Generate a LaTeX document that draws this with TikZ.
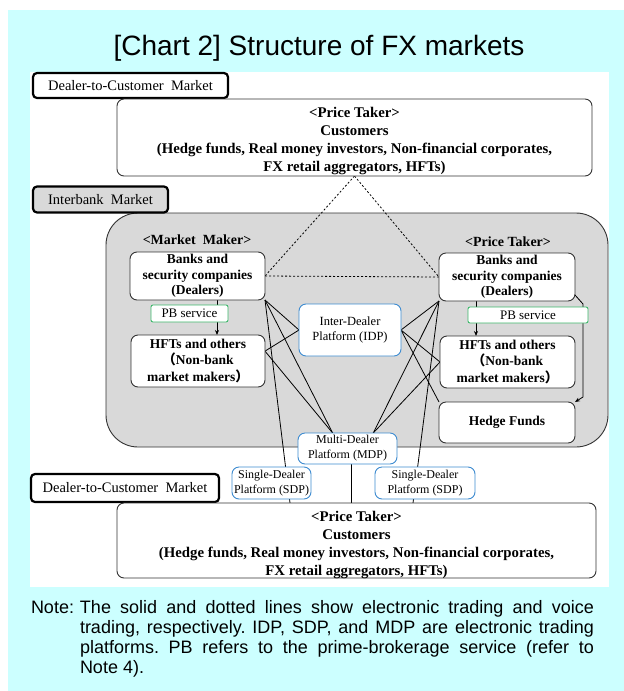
\documentclass[tikz,border=0pt]{standalone}
\usepackage{fontspec}
\setmainfont{Liberation Serif}
\newfontfamily\arial{Liberation Sans}
\newfontfamily\cjk{Noto Sans CJK JP}
\usetikzlibrary{arrows.meta,calc}
\definecolor{bgcyan}{HTML}{CCFFFF}
\definecolor{ibgray}{HTML}{D9D9D9}
\definecolor{pblue}{HTML}{3D8BD0}
\definecolor{pbgreen}{HTML}{3DB86B}
\pgfdeclarelayer{bg}
\pgfdeclarelayer{lines}
\pgfsetlayers{bg,lines,main}
\frenchspacing
\begin{document}
\begin{tikzpicture}[x=1pt,y=-1pt,
  every node/.style={inner sep=0pt, outer sep=0pt},
  box/.style={draw=black!80, fill=white, line width=0.9pt, rounded corners=7pt, align=center,
    font=\bfseries\fontsize{13.5}{15.5}\selectfont},
  custtext/.style={align=center, font=\bfseries\fontsize{14.8}{18}\selectfont},
  lbl/.style={draw=black, line width=2.2pt, rounded corners=4pt, align=center,
    font=\fontsize{14.5}{16}\selectfont},
  plat/.style={draw=pblue, fill=white, line width=0.9pt, rounded corners=7pt, align=center,
    font=\fontsize{12}{15}\selectfont},
  pbbox/.style={draw=pbgreen, fill=white, line width=0.9pt, rounded corners=2pt,
    font=\fontsize{13}{15}\selectfont},
  role/.style={font=\bfseries\fontsize{14}{16}\selectfont},
  link/.style={line width=0.8pt},
  voice/.style={line width=0.8pt, dash pattern=on 2pt off 2pt},
  pbarrow/.style={line width=0.8pt, -{Stealth[length=5pt,width=4pt]}},
  notefont/.style={font=\arial\fontsize{18}{20.3}\selectfont},
]
\useasboundingbox (0,0) rectangle (624,691);

\begin{pgfonlayer}{bg}
  \fill[bgcyan] (8,10) rectangle (624,691);
  \fill[white] (30,72) rectangle (609,587);
  \node[draw=black!80, fill=ibgray, line width=0.9pt, rounded corners=32pt,
        minimum width=502pt, minimum height=234pt] (ibreg) at (357,330) {};
\end{pgfonlayer}

% title
\node[font=\arial\fontsize{28}{30}\selectfont] (title) at (319,48) {[Chart 2] Structure of FX markets};

% labels
\node[lbl, fill=white, minimum width=195pt, minimum height=25pt] (d2ctop) at (130.5,85.5) {Dealer-to-Customer\ \ Market};
\node[lbl, fill=ibgray, minimum width=135pt, minimum height=26pt] (interbank) at (100.5,199.5) {Interbank\ \ Market};
\node[lbl, fill=white, minimum width=188pt, minimum height=28pt] (d2cbot) at (125,488) {Dealer-to-Customer\ \ Market};

% customers
\node[box, minimum width=475pt, minimum height=77pt] (custtop) at (354.5,137.5) {};
\node[custtext] (custtoptext) at (354.5,140.5)
  {<Price Taker>\\Customers\\(Hedge funds, Real money investors, Non-financial corporates,\\FX retail aggregators, HFTs)};
\node[box, minimum width=479pt, minimum height=75pt] (custbot) at (356.5,540.5) {};
\node[custtext] (custbottext) at (356.5,545)
  {<Price Taker>\\Customers\\(Hedge funds, Real money investors, Non-financial corporates,\\FX retail aggregators, HFTs)};

% roles
\node[role] (mm) at (197,240) {<Market\ \ Maker>};
\node[role] (pt) at (508,242) {<Price Taker>};

% interbank boxes
\node[box, minimum width=135pt, minimum height=48pt] (ldeal) at (197.5,276) {Banks and\\security companies\\(Dealers)};
\node[box, minimum width=136pt, minimum height=48pt] (rdeal) at (507,277) {Banks and\\security companies\\(Dealers)};
\node[box, font=\bfseries\fontsize{13.5}{16.5}\selectfont, minimum width=134pt, minimum height=52pt] (lhft) at (198,361)
  {HFTs and others\\{\cjk （}Non-bank\\market makers{\cjk ）}};
\node[box, font=\bfseries\fontsize{13.5}{16.5}\selectfont, minimum width=135pt, minimum height=52pt] (rhft) at (507.5,362)
  {HFTs and others\\{\cjk （}Non-bank\\market makers{\cjk ）}};
\node[box, font=\bfseries\fontsize{13.5}{16}\selectfont, minimum width=136pt, minimum height=41pt] (hf) at (507,422.5) {Hedge Funds};

\node[pbbox, minimum width=77pt, minimum height=17pt] (lpb) at (189.5,313.5) {PB service};
\node[pbbox, minimum width=120pt, minimum height=16pt] (rpb) at (528,315) {PB service};

% platforms
\node[plat, font=\fontsize{12.5}{15.5}\selectfont, minimum width=102pt, minimum height=52pt] (idp) at (350,330) {Inter-Dealer\\Platform (IDP)};
\node[plat, minimum width=99pt, minimum height=31pt] (mdp) at (347.5,448.5) {Multi-Dealer\\Platform (MDP)};
\node[plat, minimum width=79pt, minimum height=32pt] (lsdp) at (271.5,483) {Single-Dealer\\Platform (SDP)};
\node[plat, minimum width=100pt, minimum height=32pt] (rsdp) at (425,483) {Single-Dealer\\Platform (SDP)};

% note
\node[notefont, anchor=north west, text width=514pt, align=justify] (note) at (80,600)
  {\llap{\makebox[49pt][l]{Note:}}The solid and dotted lines show electronic trading and voice\linebreak
   trading, respectively. IDP, SDP, and MDP are electronic trading\linebreak
   platforms. PB refers to the prime-brokerage service (refer to\linebreak
   Note 4).};

% connection points
\coordinate (lh) at ($(lhft.north east)!0.31!(lhft.south east)$);
\coordinate (mdpl) at ($(mdp.north west)!0.35!(mdp.north east)$);
\coordinate (mdpr) at ($(mdp.north west)!0.76!(mdp.north east)$);
\coordinate (cbl) at (290,503);
\coordinate (cbr) at (413,503);
\coordinate (mdpb) at (351,464);
\coordinate (cbm) at (351,503);
\coordinate (lpbt) at (217,300);
\coordinate (rpbt) at (476,301);
\coordinate (rarr1) at (575,295);
\coordinate (rarr2) at (583,304);
\coordinate (rarr3) at (583,397);

\begin{pgfonlayer}{lines}
  % voice trading
  \draw[voice] (custtop.south) -- (ldeal.east);
  \draw[voice] (custtop.south) -- (rdeal.west);
  \draw[voice] (ldeal.east) -- (rdeal.west);
  % electronic, left
  \draw[link] (ldeal.south east) -- (idp.west);
  \draw[link] (ldeal.south east) -- (mdpl);
  \draw[link] (ldeal.south east) -- (cbl);
  \draw[link] (lh) -- (idp.west);
  \draw[link] (lh) -- (mdpl);
  % electronic, right
  \draw[link] (rdeal.south west) -- (idp.east);
  \draw[link] (rdeal.south west) -- (mdpr);
  \draw[link] (rdeal.south west) -- (cbr);
  \draw[link] (rhft.west) -- (idp.east);
  \draw[link] (rhft.west) -- (mdpr);
  \draw[link] (idp.east) -- (hf.north west);
  \draw[link] (mdpb) -- (cbm);
  % PB service arrows
  \draw[pbarrow] (lpbt) -- (lpbt |- lhft.north);
  \draw[pbarrow] (rpbt) -- (rpbt |- rhft.north);
  \draw[pbarrow] (rarr1) -- (rarr2) -- (rarr3) -- (hf.north east);
\end{pgfonlayer}
\end{tikzpicture}
\end{document}
